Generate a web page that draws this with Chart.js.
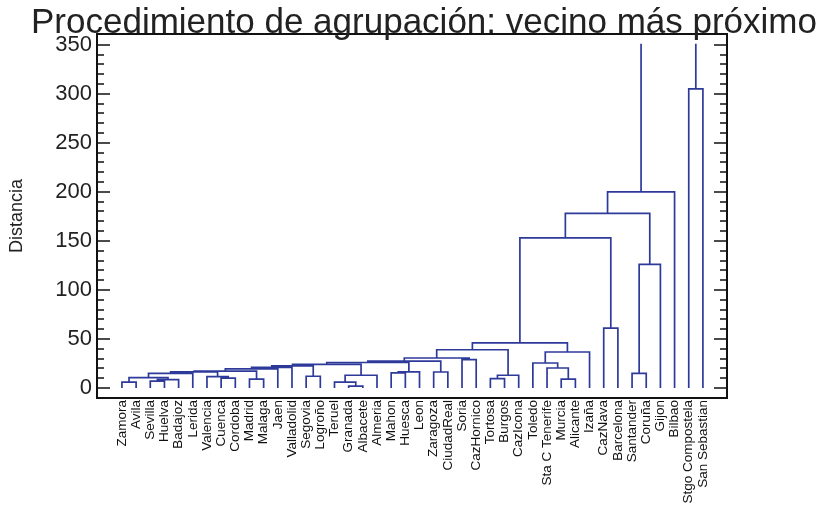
<!DOCTYPE html>
<html>
<head>
<meta charset="utf-8">
<script src="https://cdn.jsdelivr.net/npm/chart.js@4.4.0/dist/chart.umd.min.js"></script>
<style>
  html, body { margin: 0; padding: 0; background: #fff; }
</style>
</head>
<body>
<canvas id="dendro" width="827" height="508"></canvas>
<script>
var leaves = [
  'Zamora', 'Avila', 'Sevilla', 'Huelva', 'Badajoz', 'Lerida', 'Valencia',
  'Cuenca', 'Cordoba', 'Madrid', 'Malaga', 'Jaen', 'Valladolid', 'Segovia',
  'Logroño', 'Teruel', 'Granada', 'Albacete', 'Almeria', 'Mahon', 'Huesca',
  'Leon', 'Zaragoza', 'CiudadReal', 'Soria', 'CazHornico', 'Tortosa', 'Burgos',
  'CazIcona', 'Toledo', 'Sta C Tenerife', 'Murcia', 'Alicante', 'Izaña',
  'CazNava', 'Barcelona', 'Santander', 'Coruña', 'Gijon', 'Bilbao',
  'Stgo Compostela', 'San Sebastian'
];

// merge k joins mergeA[k] and mergeB[k] (a leaf name, or '#j' for merge j) at mergeDist[k]
var mergeA = [
  'Zamora', 'Sevilla', '#1', '#0', '#3', 'Cuenca', 'Valencia', '#4', 'Madrid', '#7',
  '#9', '#10', 'Segovia', '#11', 'Granada', 'Teruel', '#15', '#13', 'Mahon', '#18',
  '#17', 'Zaragoza', '#20', 'Soria', '#22', 'Tortosa', '#25', '#24', 'Murcia', 'Sta C Tenerife',
  'Toledo', '#30', '#27', 'CazNava', '#32', 'Santander', '#35', '#34', '#37', 'Stgo Compostela',
  '#38'
];
var mergeB = [
  'Avila', 'Huelva', 'Badajoz', '#2', 'Lerida', 'Cordoba', '#5', '#6', 'Malaga', '#8',
  'Jaen', 'Valladolid', 'Logroño', '#12', 'Albacete', '#14', 'Almeria', '#16', 'Huesca', 'Leon',
  '#19', 'CiudadReal', '#21', 'CazHornico', '#23', 'Burgos', 'CazIcona', '#26', 'Alicante', '#28',
  '#29', 'Izaña', '#31', 'Barcelona', '#33', 'Coruña', 'Gijon', '#36', 'Bilbao', 'San Sebastian',
  '#39'
];
var mergeDist = [
  6, 7, 8.5, 10.5, 15, 10, 11.5, 16.5, 9, 17.3,
  19.4, 21, 12, 22.5, 2, 6, 13, 24, 15.5, 16.5,
  26, 16.3, 27.5, 29, 30.6, 9.5, 13, 39, 9, 20.4,
  25.5, 36.7, 46, 61, 153, 15, 126, 178, 200, 305,
  351
];

var yTicks = [0, 50, 100, 150, 200, 250, 300, 350];

var FONT = '"Liberation Sans", Arial, sans-serif';

// walk the merges, each child sits at the midpoint of its own leaves
var buildSegments = () => {
  var pos = {};
  var height = {};
  leaves.forEach((name, i) => { pos[name] = i; height[name] = 0; });
  var pts = [];
  var last = mergeDist.length - 1;
  mergeDist.forEach((d, k) => {
    var a = mergeA[k];
    var b = mergeB[k];
    pos['#' + k] = (pos[a] + pos[b]) / 2;
    height['#' + k] = d;
    if (k === last) {
      // the final join lies above the axis, only its two legs show
      pts.push({x: pos[a], y: height[a]}, {x: pos[a], y: d}, {x: pos[a], y: null});
      pts.push({x: pos[b], y: height[b]}, {x: pos[b], y: d}, {x: pos[b], y: null});
    } else {
      pts.push({x: pos[a], y: height[a]}, {x: pos[a], y: d},
               {x: pos[b], y: d}, {x: pos[b], y: height[b]}, {x: pos[b], y: null});
    }
  });
  return pts;
};

var frame = {
  id: 'frame',
  afterDraw(chart) {
    const {ctx, chartArea: a} = chart;
    const y = chart.scales.y;
    ctx.save();
    ctx.strokeStyle = '#111';
    ctx.lineWidth = 2;
    ctx.strokeRect(a.left, a.top, a.right - a.left, a.bottom - a.top);
    ctx.lineWidth = 1.6;
    for (let v = 0; v <= 350; v += 10) {
      const py = Math.round(y.getPixelForValue(v));
      const len = v % 50 === 0 ? 13 : 7;
      ctx.beginPath();
      ctx.moveTo(a.left, py); ctx.lineTo(a.left + len, py);
      ctx.moveTo(a.right, py); ctx.lineTo(a.right - len, py);
      ctx.stroke();
    }
    ctx.fillStyle = '#222';
    ctx.font = '35px ' + FONT;
    ctx.textAlign = 'center';
    ctx.textBaseline = 'alphabetic';
    ctx.fillText('Procedimiento de agrupación: vecino más próximo', 424, 33);
    ctx.restore();
  }
};

new Chart(document.getElementById('dendro'), {
  type: 'scatter',
  data: {
    datasets: [{
      data: buildSegments(),
      showLine: true,
      spanGaps: false,
      borderColor: '#2e3a9a',
      borderWidth: 1.7,
      pointRadius: 0,
      tension: 0
    }]
  },
  options: {
    responsive: false,
    animation: false,
    layout: {padding: {top: 34, right: 100, left: 0, bottom: 0}},
    plugins: {legend: {display: false}, tooltip: {enabled: false}, title: {display: false}},
    scales: {
      x: {
        type: 'linear',
        min: -1.76,
        max: 42.7,
        afterBuildTicks: s => { s.ticks = leaves.map((_, i) => ({value: i})); },
        afterFit: s => { s.height = 110; },
        grid: {display: false, drawTicks: false},
        border: {display: false},
        ticks: {
          autoSkip: false,
          minRotation: 90,
          maxRotation: 90,
          padding: 2,
          color: '#111',
          font: {family: FONT, size: 13.5},
          callback: v => leaves[v]
        }
      },
      y: {
        min: -10.2,
        max: 361,
        afterBuildTicks: s => { s.ticks = yTicks.map(v => ({value: v})); },
        afterFit: s => { s.width = 97; },
        grid: {display: false, drawTicks: false},
        border: {display: false},
        ticks: {padding: 5, color: '#222', font: {family: FONT, size: 22}},
        title: {
          display: true,
          text: 'Distancia',
          color: '#222',
          padding: {top: 6, bottom: 0},
          font: {family: FONT, size: 18}
        }
      }
    }
  },
  plugins: [frame]
});
</script>
</body>
</html>
